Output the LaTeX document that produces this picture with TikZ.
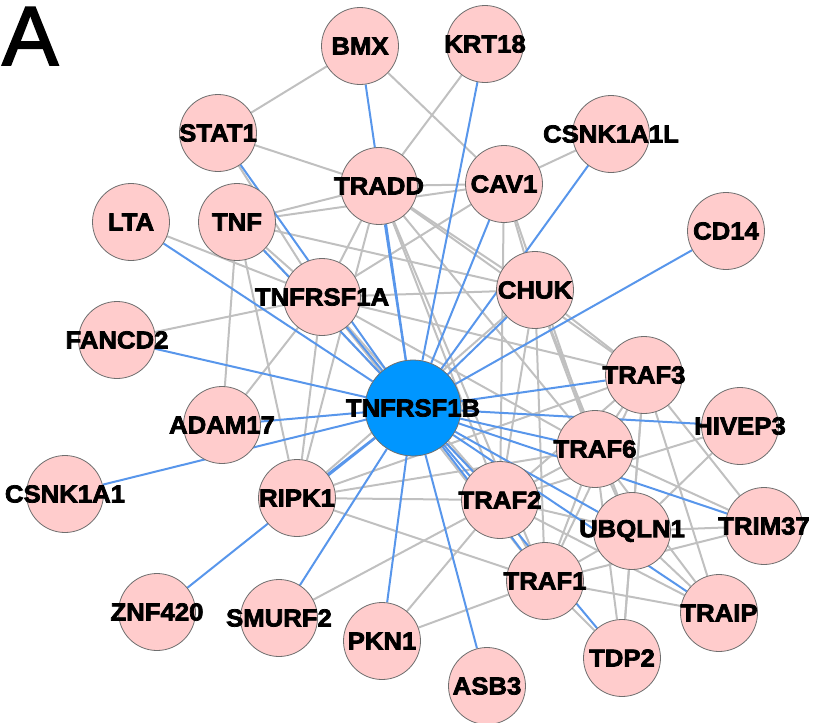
\documentclass[tikz,border=0pt]{standalone}
\usepackage{fontspec}
\newfontfamily\labfont[FakeStretch=1.05, FakeBold=3]{Liberation Sans Bold}
\newfontfamily\panelfont[FakeBold=2.2]{Liberation Sans}
\definecolor{edgegray}{RGB}{192,192,192}
\definecolor{edgeblue}{RGB}{88,150,235}
\definecolor{nodepink}{RGB}{255,204,204}
\definecolor{bordergray}{RGB}{110,110,110}
\definecolor{hubblue}{RGB}{0,150,255}
\pgfdeclarelayer{grayl}
\pgfdeclarelayer{bluel}
\pgfsetlayers{grayl,bluel,main}
\tikzset{
  gedge/.style={draw=edgegray, line width=2pt},
  bedge/.style={draw=edgeblue, line width=2pt},
  pnode/.style={circle, fill=nodepink, draw=bordergray, line width=0.8pt, minimum size=77pt, inner sep=0pt},
  hub/.style={circle, fill=hubblue, draw=bordergray, line width=0.8pt, minimum size=96pt, inner sep=0pt},
  lab/.style={font=\labfont\fontsize{24.5}{25}\selectfont, inner sep=0pt, text=black},
}
\begin{document}
\begin{tikzpicture}[x=1pt,y=-1pt]
\useasboundingbox (0,0) rectangle (817,723);
\node[anchor=base west, inner sep=0pt, font=\panelfont\fontsize{84}{84}\selectfont] (panel) at (2,65) {A};
% nodes
\node[pnode] (bmx) at (360,46) {};
\node[pnode] (krt) at (485,44) {};
\node[pnode] (stat) at (218,133) {};
\node[pnode] (csnkl) at (611,134) {};
\node[pnode] (tradd) at (379,186) {};
\node[pnode] (cav) at (504,184) {};
\node[pnode] (lta) at (131,222) {};
\node[pnode] (tnf) at (237,222) {};
\node[pnode] (cd) at (726,231) {};
\node[pnode] (tnfa) at (322,297) {};
\node[pnode] (chuk) at (535,290) {};
\node[pnode] (fanc) at (117,340) {};
\node[pnode] (traf3) at (644,375) {};
\node[pnode] (adam) at (222,425) {};
\node[pnode] (hivep) at (740,426) {};
\node[pnode] (traf6) at (595,449) {};
\node[pnode] (csnk) at (65,494) {};
\node[pnode] (ripk) at (297,498) {};
\node[pnode] (traf2) at (500,500) {};
\node[pnode] (ubq) at (632,531) {};
\node[pnode] (trim) at (764,526) {};
\node[pnode] (traf1) at (545,581) {};
\node[pnode] (znf) at (157,612) {};
\node[pnode] (smurf) at (279,618) {};
\node[pnode] (pkn) at (382,641) {};
\node[pnode] (traip) at (719,613) {};
\node[pnode] (tdp) at (622,658) {};
\node[pnode] (asb) at (487,686) {};
\node[hub] (hub) at (413,408) {};
% gray edges
\begin{pgfonlayer}{grayl}
\foreach \a/\b in {bmx/stat, bmx/cav, krt/tradd, stat/tradd, stat/tnfa,
  tradd/cav, tnf/tradd, tnf/cav, tnf/chuk, tnf/tnfa, tnf/adam, tnf/ripk, tnf/traf2,
  cav/csnkl, lta/tnfa, fanc/tnfa, adam/tnfa,
  tnfa/ripk, tnfa/tradd, tnfa/cav, tnfa/chuk, tnfa/traf2, tnfa/traf1, tnfa/traf3, tnfa/traf6,
  tradd/ripk, tradd/traf2, tradd/traf1, tradd/traf3, tradd/traf6, tradd/chuk,
  cav/chuk, cav/traf2, cav/traf6,
  chuk/traf2, chuk/traf1, chuk/traf3, chuk/traf6, chuk/ripk, chuk/ubq,
  ripk/traf2, ripk/traf1, ripk/traf6, ripk/traf3,
  smurf/traf2, pkn/traf2, pkn/traf1,
  traf2/traf1, traf2/traf3, traf2/traf6, traf2/ubq, traf2/hivep, traf2/traip,
  traf1/traf3, traf1/traf6, traf1/ubq, traf1/tdp, traf1/traip, traf1/trim,
  traf3/traf6, traf3/ubq, traf3/trim, traf3/traip, traf3/tdp,
  traf6/ubq, traf6/trim, traf6/traip, traf6/tdp,
  ubq/trim, ubq/traip, ubq/tdp, ubq/hivep}
  \draw[gedge] (\a) -- (\b);
\end{pgfonlayer}
% blue edges
\begin{pgfonlayer}{bluel}
\foreach \n in {bmx,krt,stat,csnkl,tradd,cav,lta,tnf,cd,tnfa,chuk,fanc,traf3,adam,hivep,traf6,csnk,ripk,traf2,ubq,trim,traf1,znf,smurf,pkn,traip,tdp,asb}
  \draw[bedge] (hub) -- (\n);
\end{pgfonlayer}
% labels
\node[lab] at (bmx) {BMX};
\node[lab] at (krt) {KRT18};
\node[lab] at (stat) {STAT1};
\node[lab] at (csnkl) {CSNK1A1L};
\node[lab] at (tradd) {TRADD};
\node[lab] at (cav) {CAV1};
\node[lab] at (lta) {LTA};
\node[lab] at (tnf) {TNF};
\node[lab] at (cd) {CD14};
\node[lab] at (tnfa) {TNFRSF1A};
\node[lab] at (chuk) {CHUK};
\node[lab] at (fanc) {FANCD2};
\node[lab] at (traf3) {TRAF3};
\node[lab] at (adam) {ADAM17};
\node[lab] at (hivep) {HIVEP3};
\node[lab] at (traf6) {TRAF6};
\node[lab] at (csnk) {CSNK1A1};
\node[lab] at (ripk) {RIPK1};
\node[lab] at (traf2) {TRAF2};
\node[lab] at (ubq) {UBQLN1};
\node[lab] at (trim) {TRIM37};
\node[lab] at (traf1) {TRAF1};
\node[lab] at (znf) {ZNF420};
\node[lab] at (smurf) {SMURF2};
\node[lab] at (pkn) {PKN1};
\node[lab] at (traip) {TRAIP};
\node[lab] at (tdp) {TDP2};
\node[lab] at (asb) {ASB3};
\node[lab] at (hub) {TNFRSF1B};
\end{tikzpicture}
\end{document}
